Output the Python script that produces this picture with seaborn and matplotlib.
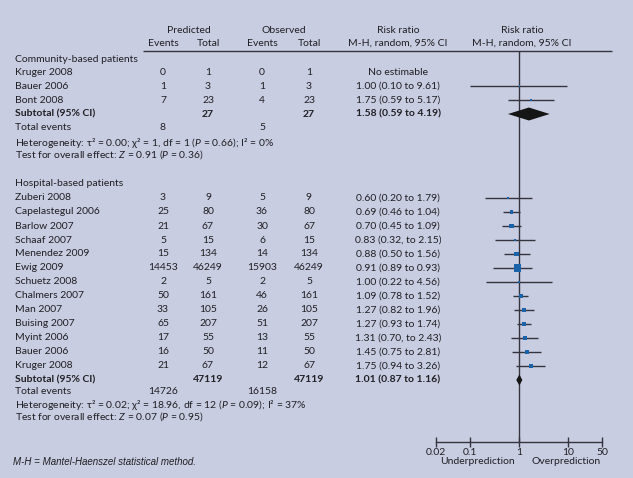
import numpy as np
import pandas as pd
import matplotlib
matplotlib.use("Agg")
import matplotlib.pyplot as plt
import seaborn as sns

# ---------------- data ----------------
comm_names = ["Kruger 2008", "Bauer 2006", "Bont 2008"]
comm_pred_events = [0, 1, 7]
comm_pred_total = [1, 3, 23]
comm_obs_events = [0, 1, 4]
comm_obs_total = [1, 3, 23]
comm_rr_text = ["No estimable", "1.00 (0.10 to 9.61)", "1.75 (0.59 to 5.17)"]
comm_rr = [np.nan, 1.00, 1.75]
comm_lo = [np.nan, 0.10, 0.59]
comm_hi = [np.nan, 9.61, 5.17]
comm_weight = [np.nan, 1.0, 1.0]
comm_sub = (1.58, 0.59, 4.19)
comm_sub_text = "1.58 (0.59 to 4.19)"
comm_sub_totals = (27, 27)
comm_total_events = (8, 5)
comm_het = r"Heterogeneity: τ² = 0.00; χ² = 1, df = 1 ($P$ = 0.66); I² = 0%"
comm_test = r"Test for overall effect: $Z$ = 0.91 ($P$ = 0.36)"

hosp_names = ["Zuberi 2008", "Capelastegul 2006", "Barlow 2007", "Schaaf 2007",
              "Menendez 2009", "Ewig 2009", "Schuetz 2008", "Chalmers 2007",
              "Man 2007", "Buising 2007", "Myint 2006", "Bauer 2006", "Kruger 2008"]
hosp_pred_events = [3, 25, 21, 5, 15, 14453, 2, 50, 33, 65, 17, 16, 21]
hosp_pred_total = [9, 80, 67, 15, 134, 46249, 5, 161, 105, 207, 55, 50, 67]
hosp_obs_events = [5, 36, 30, 6, 14, 15903, 2, 46, 26, 51, 13, 11, 12]
hosp_obs_total = [9, 80, 67, 15, 134, 46249, 5, 161, 105, 207, 55, 50, 67]
hosp_rr_text = ["0.60 (0.20 to 1.79)", "0.69 (0.46 to 1.04)", "0.70 (0.45 to 1.09)",
                "0.83 (0.32, to 2.15)", "0.88 (0.50 to 1.56)", "0.91 (0.89 to 0.93)",
                "1.00 (0.22 to 4.56)", "1.09 (0.78 to 1.52)", "1.27 (0.82 to 1.96)",
                "1.27 (0.93 to 1.74)", "1.31 (0.70, to 2.43)", "1.45 (0.75 to 2.81)",
                "1.75 (0.94 to 3.26)"]
hosp_rr = [0.60, 0.69, 0.70, 0.83, 0.88, 0.91, 1.00, 1.09, 1.27, 1.27, 1.31, 1.45, 1.75]
# whisker ends as drawn in the picture
hosp_lo = [0.20, 0.46, 0.45, 0.32, 0.48, 0.29, 0.21, 0.76, 0.80, 0.90, 0.68, 0.72, 0.87]
hosp_hi = [1.79, 1.04, 1.09, 2.15, 1.63, 1.85, 4.60, 1.52, 1.96, 1.74, 2.43, 2.81, 3.30]
hosp_weight = [2.5, 5.5, 9.8, 1.4, 9.8, 25.8, 1.4, 5.5, 7.5, 9.8, 5.5, 5.5, 9.8]
hosp_sub = (1.01, 0.87, 1.16)
hosp_sub_text = "1.01 (0.87 to 1.16)"
hosp_sub_totals = (47119, 47119)
hosp_total_events = (14726, 16158)
hosp_het = r"Heterogeneity: τ² = 0.02; χ² = 18.96, df = 12 ($P$ = 0.09); I² = 37%"
hosp_test = r"Test for overall effect: $Z$ = 0.07 ($P$ = 0.95)"

axis_ticks = [0.02, 0.1, 1, 10, 50]
axis_ticklabels = ["0.02", "0.1", "1", "10", "50"]

# ---------------- style ----------------
sns.set_style("white")
BG = "#c9cde1"
TXT = "#1f1f24"
LINE = "#34343e"
BLUE = "#1b63a8"
plt.rcParams["font.family"] = ["Lato", "DejaVu Sans"]
plt.rcParams["mathtext.fontset"] = "custom"
plt.rcParams["mathtext.it"] = "Lato:italic"
plt.rcParams["mathtext.rm"] = "Lato"
FS = 7.5

W, H = 633, 478
fig = plt.figure(figsize=(W / 100, H / 100), dpi=100, facecolor=BG)
ax = fig.add_axes([0, 0, 1, 1])
ax.set_xlim(0, W)
ax.set_ylim(H, 0)
ax.axis("off")
ax.patch.set_alpha(0)

# layout (pixel columns / rows)
X_NAME, X_PE, X_PT, X_OE, X_OT, X_RR = 15, 163, 208, 262, 309, 398
AX_TOP, AX_BOT = 51, 442
STEP = 14.0
comm_title_y, comm_first_y = 59, 72
hosp_title_y, hosp_first_y = 184, 198

def t(x, y, s, ha="center", bold=False, **kw):
    ax.text(x, y, s, ha=ha, va="center", fontsize=kw.pop("fs", FS), color=TXT,
            fontweight="bold" if bold else "normal", **kw)

# headers
t((X_PE + X_PT) / 2 + 3, 30, "Predicted")
t((X_OE + X_OT) / 2 - 2, 30, "Observed")
for x, s in [(X_PE, "Events"), (X_PT, "Total"), (X_OE, "Events"), (X_OT, "Total")]:
    t(x, 43, s)
t(X_RR, 30, "Risk ratio")
t(X_RR, 43, "M-H, random, 95% CI")
t(522, 30, "Risk ratio")
t(522, 43, "M-H, random, 95% CI")
ax.plot([143, 612], [AX_TOP, AX_TOP], color=LINE, lw=1.0, solid_capstyle="butt")

# forest axes (log scale, shares pixel rows)
fax = fig.add_axes([436 / W, (H - AX_BOT) / H, (602.4 - 436) / W, (AX_BOT - AX_TOP) / H])
fax.set_xscale("log")
fax.set_xlim(0.02, 50)
fax.set_ylim(AX_BOT, AX_TOP)
fax.patch.set_alpha(0)
for sp in ["top", "left", "right"]:
    fax.spines[sp].set_visible(False)
fax.spines["bottom"].set_color(LINE)
fax.spines["bottom"].set_linewidth(1.0)
fax.axvline(1, color=LINE, lw=1.0, zorder=1)

def section(names, pe, pt, oe, ot, rr_text, rr, lo, hi, wt, sub, sub_text,
            sub_tot, tot_ev, het, test, title, title_y, first_y, sub_gap, het_rows):
    t(X_NAME, title_y, title, ha="left")
    ys = [first_y + STEP * i for i in range(len(names))]
    for i, y in enumerate(ys):
        t(X_NAME, y, names[i], ha="left")
        t(X_PE, y, str(pe[i]))
        t(X_PT, y, str(pt[i]))
        t(X_OE, y, str(oe[i]))
        t(X_OT, y, str(ot[i]))
        t(X_RR, y, rr_text[i])
    df = pd.DataFrame({"y": ys, "rr": rr, "lo": lo, "hi": hi, "w": wt}).dropna()
    fax.hlines(df["y"], df["lo"], df["hi"], color=LINE, lw=1.0, zorder=2)
    sns.scatterplot(data=df, x="rr", y="y", size="w", sizes=(0, 26),
                    size_norm=(0, 25.8), marker="s", color=BLUE, linewidth=0,
                    legend=False, ax=fax, zorder=3, clip_on=False)
    y_sub = ys[-1] + sub_gap
    t(X_NAME, y_sub, "Subtotal (95% CI)", ha="left", bold=True)
    t(X_PT, y_sub, str(sub_tot[0]), bold=True)
    t(X_OT, y_sub, str(sub_tot[1]), bold=True)
    t(X_RR, y_sub, sub_text, bold=True)
    est, slo, shi = sub
    hh = het_rows[3]
    fax.fill([slo, est, shi, est], [y_sub, y_sub - hh, y_sub, y_sub + hh],
             color="#151515", lw=0, zorder=4)
    y_te = y_sub + het_rows[0]
    t(X_NAME, y_te, "Total events", ha="left")
    t(X_PE, y_te, str(tot_ev[0]))
    t(X_OE, y_te, str(tot_ev[1]))
    t(X_NAME, y_te + het_rows[1], het, ha="left")
    t(X_NAME, y_te + het_rows[2], test, ha="left")

section(comm_names, comm_pred_events, comm_pred_total, comm_obs_events, comm_obs_total,
        comm_rr_text, comm_rr, comm_lo, comm_hi, comm_weight, comm_sub, comm_sub_text,
        comm_sub_totals, comm_total_events, comm_het, comm_test,
        "Community-based patients", comm_title_y, comm_first_y, 14, (13, 16, 28, 6.5))
section(hosp_names, hosp_pred_events, hosp_pred_total, hosp_obs_events, hosp_obs_total,
        hosp_rr_text, hosp_rr, hosp_lo, hosp_hi, hosp_weight, hosp_sub, hosp_sub_text,
        hosp_sub_totals, hosp_total_events, hosp_het, hosp_test,
        "Hospital-based patients", hosp_title_y, hosp_first_y, 14, (12, 13, 25, 5.5))

fax.set_xscale("log")
fax.set_xlim(0.02, 50)
fax.set_ylim(AX_BOT, AX_TOP)
fax.set_xlabel("")
fax.set_ylabel("")
fax.set_yticks([])
fax.set_xticks(axis_ticks)
fax.set_xticklabels(axis_ticklabels)
fax.xaxis.set_minor_locator(matplotlib.ticker.NullLocator())
fax.tick_params(axis="x", which="major", bottom=True, direction="inout", length=7,
                width=1.0, color=LINE, labelsize=FS, labelcolor=TXT, pad=0.5)

t(477, 462, "Underprediction")
t(566, 462, "Overprediction")
ax.text(13, 462, "M-H = Mantel-Haenszel statistical method.", ha="left", va="center",
        fontsize=7.0, color=TXT, style="italic", family="Liberation Sans")

fig.savefig("out.png", dpi=100, facecolor=BG)
